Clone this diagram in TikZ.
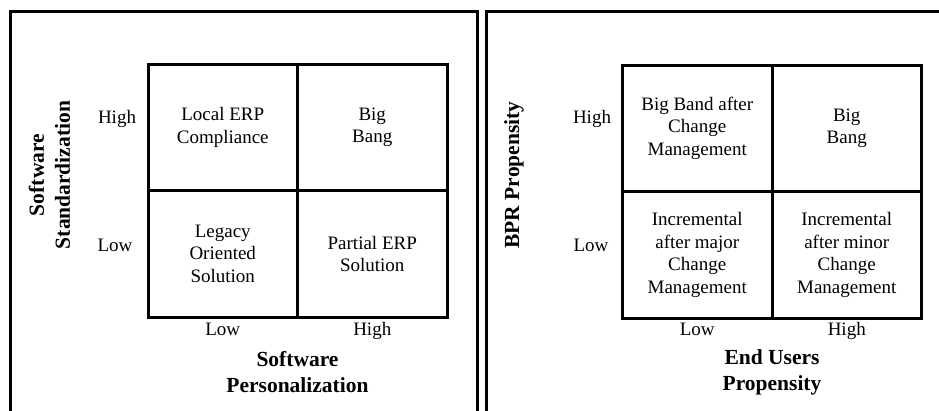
\documentclass[tikz,border=0pt]{standalone}
\usepackage{fontspec}
\setmainfont{Liberation Serif}
\usetikzlibrary{positioning}

\begin{document}
\begin{tikzpicture}[
    x=1pt, y=1pt,
    cell/.style={rectangle, draw, line width=3pt, minimum width=149.5pt, minimum height=126.5pt, outer sep=0pt, inner sep=2pt, align=center, font=\fontsize{19}{22.5}\selectfont},
    lbl/.style={inner sep=0pt, font=\fontsize{19}{22.5}\selectfont},
    axis/.style={inner sep=0pt, align=center, font=\fontsize{21.5}{26}\selectfont\bfseries},
    panel/.style={line width=3pt}
]
\useasboundingbox (0,0) rectangle (939,-410);

% Frames
\draw[panel] (10,-415) -- (10,-11) -- (477,-11) -- (477,-415);
\draw[panel] (486,-415) -- (486,-11) -- (945,-11);

% Left matrix - software
\node[cell] (l-a) at (222.75,-127.25) {Local ERP\\Compliance};
\node[cell, right=0pt of l-a] (l-b) {Big\\Bang};
\node[cell, below=0pt of l-a] (l-c) {Legacy\\Oriented\\Solution};
\node[cell, right=0pt of l-c] (l-d) {Partial ERP\\Solution};

\node[lbl, anchor=base] (l-yhi) at ([xshift=-31pt, yshift=4pt]l-a.west) {High};
\node[lbl, anchor=base] (l-ylo) at ([xshift=-33pt, yshift=2pt]l-c.west) {Low};
\node[lbl, anchor=base] (l-xlo) at ([yshift=-18pt]l-c.south) {Low};
\node[lbl, anchor=base] (l-xhi) at ([yshift=-18pt]l-d.south) {High};

\node[axis] (l-xaxis) at ([yshift=-55pt]l-c.south -| l-a.east) {Software\\Personalization};
\node[axis, rotate=90] (l-yaxis) at (49.5,-175) {Software\\Standardization};

% Right matrix - BPR
\node[cell] (r-a) at (697.25,-128.25) {Big Band after\\Change\\Management};
\node[cell, right=0pt of r-a] (r-b) {Big\\Bang};
\node[cell, below=0pt of r-a] (r-c) {Incremental\\after major\\Change\\Management};
\node[cell, right=0pt of r-c] (r-d) {Incremental\\after minor\\Change\\Management};

\node[lbl, anchor=base] (r-yhi) at ([xshift=-30.5pt, yshift=5pt]r-a.west) {High};
\node[lbl, anchor=base] (r-ylo) at ([xshift=-31.5pt, yshift=3pt]r-c.west) {Low};
\node[lbl, anchor=base] (r-xlo) at ([yshift=-17pt]r-c.south) {Low};
\node[lbl, anchor=base] (r-xhi) at ([yshift=-17pt]r-d.south) {High};

\node[axis] (r-xaxis) at ([yshift=-54pt]r-c.south -| r-a.east) {End Users\\Propensity};
\node[axis, rotate=90] (r-yaxis) at (514,-175) {BPR Propensity};

\end{tikzpicture}
\end{document}
